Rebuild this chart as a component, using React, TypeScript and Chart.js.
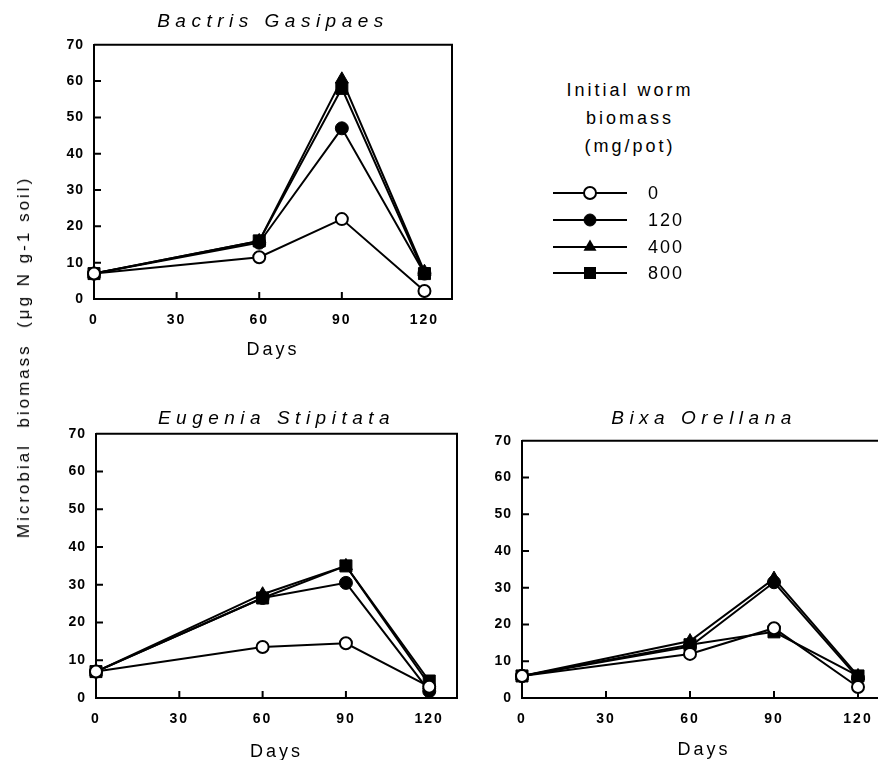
import React, { useEffect, useRef } from 'react';
import { Chart, registerables } from 'chart.js';

Chart.register(...registerables);

// ---------- data ----------
const DAYS = [0, 60, 90, 120];
const X_TICKS = [0, 30, 60, 90, 120];
const Y_TICKS = [0, 10, 20, 30, 40, 50, 60, 70];
const SERIES_LABELS = ['0', '120', '400', '800'];

const BACTRIS_0 = [7, 11.5, 22, 2.2];
const BACTRIS_120 = [7, 15.5, 47, 7];
const BACTRIS_400 = [7, 16, 60.5, 7.5];
const BACTRIS_800 = [7, 16, 58, 7];

const EUGENIA_0 = [7, 13.5, 14.5, 3];
const EUGENIA_120 = [7, 26.5, 30.5, 1.8];
const EUGENIA_400 = [7, 27.5, 35, 3.5];
const EUGENIA_800 = [7, 26.5, 35, 4.5];

const BIXA_0 = [6, 12, 19, 3];
const BIXA_120 = [6, 14, 31.5, 5.5];
const BIXA_400 = [6, 15.5, 32.5, 6];
const BIXA_800 = [6, 14.5, 18, 6];

const TITLES = ['Bactris Gasipaes', 'Eugenia Stipitata', 'Bixa Orellana'];
const X_TITLE = 'Days';
const Y_TITLE = 'Microbial  biomass  (\u03bcg N g-1 soil)';
const LEGEND_TITLE = ['Initial worm', 'biomass', '(mg/pot)'];

// ---------- styles ----------
const FONT = '"Liberation Sans", Arial, Helvetica, sans-serif';
const SERIES_STYLE = [
  { pointStyle: 'circle', radius: 6, fill: '#ffffff', bw: 2 },
  { pointStyle: 'circle', radius: 6.5, fill: '#000000', bw: 1 },
  { pointStyle: 'triangle', radius: 7.5, fill: '#000000', bw: 1 },
  { pointStyle: 'rect', radius: 8.5, fill: '#000000', bw: 1 },
];

const framePlugin = {
  id: 'frameTicks',
  beforeDatasetsDraw(chart: any) {
    const { ctx, chartArea: a, scales } = chart;
    ctx.save();
    ctx.strokeStyle = '#000';
    ctx.lineWidth = 2;
    ctx.beginPath();
    ctx.moveTo(a.left, a.top);
    ctx.lineTo(a.right, a.top);
    ctx.lineTo(a.right, a.bottom);
    scales.y.ticks.forEach((t: any) => {
      if (t.value <= scales.y.min || t.value >= scales.y.max) return;
      const y = scales.y.getPixelForValue(t.value);
      ctx.moveTo(a.left, y);
      ctx.lineTo(a.left + 7, y);
    });
    scales.x.ticks.forEach((t: any) => {
      if (t.value <= scales.x.min) return;
      const x = scales.x.getPixelForValue(t.value);
      ctx.moveTo(x, a.bottom);
      ctx.lineTo(x, a.bottom - 7);
    });
    ctx.stroke();
    ctx.restore();
  },
};

const spacingPlugin = {
  id: 'spacing',
  beforeDraw(chart: any, _args: any, opts: any) {
    const wrap = (obj: any, key: string, sp: string) => {
      if (!obj || obj['__w_' + key]) return;
      const orig = obj[key].bind(obj);
      obj[key] = (...a: any[]) => {
        const c = chart.ctx as any;
        const prev = c.letterSpacing;
        c.letterSpacing = sp;
        try {
          orig(...a);
        } finally {
          c.letterSpacing = prev;
        }
      };
      obj['__w_' + key] = true;
    };
    wrap(chart.titleBlock, 'draw', opts.title);
    wrap(chart.scales.x, 'drawLabels', opts.xTicks);
    wrap(chart.scales.x, 'drawTitle', opts.xTitle);
    wrap(chart.scales.y, 'drawLabels', opts.yTicks);
  },
};

type Layout = {
  left: number;
  top: number;
  width: number;
  height: number;
  yAxisWidth: number;
  xAxisHeight: number;
  padRight: number;
  titlePad: { top: number; bottom: number };
  xTitlePadBottom: number;
};

function Panel({ title, series, layout }: { title: string; series: number[][]; layout: Layout }) {
  const ref = useRef<HTMLCanvasElement | null>(null);
  useEffect(() => {
    if (!ref.current) return;
    const datasets = series.map((vals, i) => {
      const st = SERIES_STYLE[i];
      return {
        label: SERIES_LABELS[i],
        data: DAYS.map((d, j) => ({ x: d, y: vals[j] })),
        borderColor: '#000',
        borderWidth: 2,
        pointStyle: st.pointStyle,
        pointRadius: st.radius,
        pointHoverRadius: st.radius,
        pointBackgroundColor: st.fill,
        pointBorderColor: '#000',
        pointBorderWidth: st.bw,
        tension: 0,
        clip: false,
      };
    });
    const chart = new Chart(ref.current, {
      type: 'line',
      data: { datasets } as any,
      plugins: [framePlugin, spacingPlugin],
      options: {
        animation: false,
        responsive: false,
        devicePixelRatio: 1,
        layout: { padding: { left: 0, right: layout.padRight, top: 0, bottom: 0 } },
        font: { family: FONT },
        plugins: {
          legend: { display: false },
          tooltip: { enabled: false },
          title: {
            display: true,
            fullSize: false,
            text: title,
            color: '#000',
            font: { family: FONT, size: 19, style: 'italic', weight: 'normal' },
            padding: layout.titlePad,
          },
          spacing: { title: '5.5px', xTicks: '2px', xTitle: '3px', yTicks: '1px' },
        } as any,
        scales: {
          x: {
            type: 'linear',
            min: 0,
            max: 130,
            afterBuildTicks: (s: any) => {
              s.ticks = X_TICKS.map((v) => ({ value: v }));
            },
            afterFit: (s: any) => {
              s.height = layout.xAxisHeight;
            },
            grid: { display: false, drawTicks: false },
            border: { display: true, color: '#000', width: 2 },
            ticks: {
              padding: 13,
              color: '#000',
              autoSkip: false,
              maxRotation: 0,
              font: { family: FONT, size: 14, weight: 'bold' },
            },
            title: {
              display: true,
              text: X_TITLE,
              color: '#000',
              font: { family: FONT, size: 18 },
              padding: { top: 0, bottom: layout.xTitlePadBottom },
            },
          },
          y: {
            type: 'linear',
            min: 0,
            max: 70,
            afterBuildTicks: (s: any) => {
              s.ticks = Y_TICKS.map((v) => ({ value: v }));
            },
            afterFit: (s: any) => {
              s.width = layout.yAxisWidth;
            },
            grid: { display: false, drawTicks: false },
            border: { display: true, color: '#000', width: 2 },
            ticks: {
              padding: 10,
              color: '#000',
              font: { family: FONT, size: 14, weight: 'bold' },
            },
          },
        },
      } as any,
    });
    return () => chart.destroy();
  }, [title, series, layout]);

  return (
    <div style={{ position: 'absolute', left: layout.left, top: layout.top, width: layout.width, height: layout.height }}>
      <canvas ref={ref} width={layout.width} height={layout.height} style={{ display: 'block' }} />
    </div>
  );
}

const LAYOUTS: Layout[] = [
  { left: 20, top: 0, width: 460, height: 370, yAxisWidth: 74, xAxisHeight: 71, padRight: 28, titlePad: { top: 10, bottom: 12 }, xTitlePadBottom: 9 },
  { left: 20, top: 390, width: 460, height: 380, yAxisWidth: 76, xAxisHeight: 72, padRight: 23, titlePad: { top: 17, bottom: 4 }, xTitlePadBottom: 7 },
  { left: 470, top: 390, width: 430, height: 380, yAxisWidth: 52, xAxisHeight: 72, padRight: 14, titlePad: { top: 17, bottom: 11 }, xTitlePadBottom: 9 },
];

const PANEL_SERIES = [
  [BACTRIS_0, BACTRIS_120, BACTRIS_400, BACTRIS_800],
  [EUGENIA_0, EUGENIA_120, EUGENIA_400, EUGENIA_800],
  [BIXA_0, BIXA_120, BIXA_400, BIXA_800],
];

function Marker({ i }: { i: number }) {
  const st = SERIES_STYLE[i];
  const cx = 37;
  const cy = 10;
  let shape: any;
  if (st.pointStyle === 'circle') {
    shape = <circle cx={cx} cy={cy} r={6} fill={st.fill} stroke="#000" strokeWidth={st.bw === 2 ? 2 : 1} />;
  } else if (st.pointStyle === 'triangle') {
    shape = <polygon points={`${cx},${cy - 7.5} ${cx + 6.5},${cy + 3.75} ${cx - 6.5},${cy + 3.75}`} fill="#000" />;
  } else {
    shape = <rect x={cx - 6} y={cy - 6} width={12} height={12} fill="#000" />;
  }
  return (
    <svg width={74} height={20} style={{ position: 'absolute', left: 553, top: 0, overflow: 'visible' }}>
      <line x1={0} y1={cy} x2={74} y2={cy} stroke="#000" strokeWidth={2} />
      {shape}
    </svg>
  );
}

const LEGEND_ROW_Y = [193, 220, 247, 273];

export default function App() {
  return (
    <div style={{ position: 'fixed', left: 0, top: 0, width: 878, height: 760, overflow: 'hidden', background: '#fff' }}>
      {LAYOUTS.map((l, i) => (
        <Panel key={i} title={TITLES[i]} series={PANEL_SERIES[i]} layout={l} />
      ))}
      <div
        style={{
          position: 'absolute',
          left: 24,
          top: 357,
          transform: 'translate(-50%, -50%) rotate(-90deg)',
          whiteSpace: 'pre',
          font: `17px ${FONT}`,
          letterSpacing: '3px',
          color: '#000',
        }}
      >
        {Y_TITLE}
      </div>
      <div
        style={{
          position: 'absolute',
          left: 520,
          top: 76,
          width: 220,
          textAlign: 'center',
          font: `18px ${FONT}`,
          lineHeight: '28px',
          letterSpacing: '3px',
          color: '#000',
        }}
      >
        {LEGEND_TITLE.map((t, i) => (
          <div key={i}>{t}</div>
        ))}
      </div>
      {SERIES_LABELS.map((lab, i) => (
        <div key={lab} style={{ position: 'absolute', left: 0, top: LEGEND_ROW_Y[i] - 10, width: 878, height: 20 }}>
          <Marker i={i} />
          <div
            style={{
              position: 'absolute',
              left: 648,
              top: 0,
              lineHeight: '20px',
              font: `18px ${FONT}`,
              letterSpacing: '2px',
              color: '#000',
            }}
          >
            {lab}
          </div>
        </div>
      ))}
    </div>
  );
}
